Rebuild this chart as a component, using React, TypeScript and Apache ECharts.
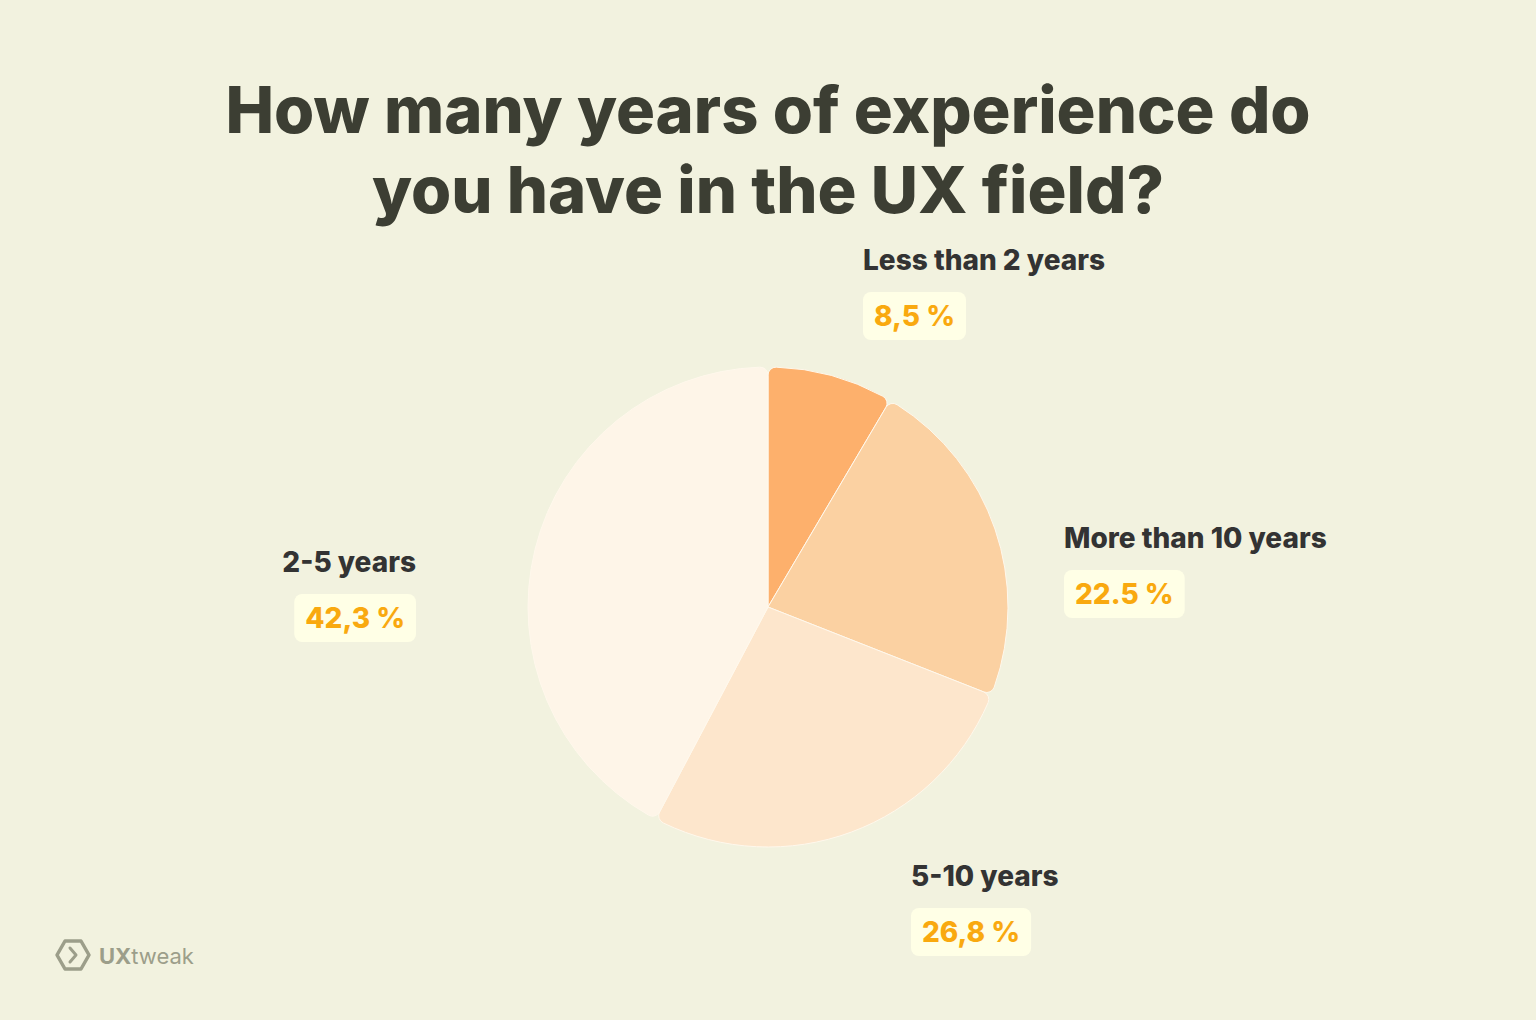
import React, { useEffect, useRef } from "react";
import * as echarts from "echarts";

const categories = ["Less than 2 years", "More than 10 years", "5-10 years", "2-5 years"];
const values = [8.5, 22.5, 26.8, 42.3];
const valueLabels = ["8,5 %", "22.5 %", "26,8 %", "42,3 %"];
const sliceColors = ["#FDB06C", "#FBD1A2", "#FDE6CC", "#FEF5E8"];

const titleText = "How many years of experience do\nyou have in the UX field?";
const FONT = "Inter, 'Open Sans', sans-serif";

// label anchors (x, top y, align) in pixels
const labelAnchors: [number, number, string][] = [
  [863, 221, "left"],
  [1064, 499, "left"],
  [911, 837, "left"],
  [416, 523, "right"],
];

export default function App() {
  const ref = useRef<HTMLDivElement>(null);
  useEffect(() => {
    document.body.style.margin = "0";
    const chart = echarts.init(ref.current!, null, { renderer: "svg" });
    chart.setOption({
      animation: false,
      backgroundColor: "#F2F2DF",
      title: {
        text: titleText,
        left: "center",
        top: 64,
        textStyle: {
          fontFamily: FONT,
          fontSize: 65,
          fontWeight: 800,
          lineHeight: 80,
          color: "#3C3E33",
        },
      },
      graphic: [
        {
          type: "polygon",
          shape: {
            points: [
              [57, 955],
              [65, 941],
              [81, 941],
              [89, 955],
              [81, 969],
              [65, 969],
            ],
          },
          style: { fill: "none", stroke: "#9C9E8A", lineWidth: 3.5, lineJoin: "round" },
        },
        {
          type: "polyline",
          shape: { points: [[70, 948], [76, 955], [70, 962]] },
          style: { fill: "none", stroke: "#9C9E8A", lineWidth: 3, lineJoin: "round", lineCap: "round" },
        },
        {
          type: "text",
          x: 99,
          y: 956,
          style: {
            text: "{a|UX}{b|tweak}",
            verticalAlign: "middle",
            rich: {
              a: { fontFamily: FONT, fontSize: 22, fontWeight: 700, fill: "#9C9E8A" },
              b: { fontFamily: FONT, fontSize: 22, fontWeight: 400, fill: "#9C9E8A" },
            },
          },
        },
      ],
      series: [
        {
          type: "pie",
          center: [768, 607],
          radius: [0, 240],
          startAngle: 90,
          clockwise: true,
          itemStyle: {
            borderRadius: [0, 8],
            borderColor: "#FFF8EC",
            borderWidth: 1,
          },
          labelLine: { show: false },
          label: {
            show: true,
            formatter: (p: any) => `{n|${p.name}}\n{v|${valueLabels[p.dataIndex]}}`,
            rich: {
              n: { fontFamily: FONT, fontSize: 28, fontWeight: 800, color: "#333333", lineHeight: 78 },
              v: {
                fontFamily: FONT,
                fontSize: 28,
                fontWeight: 800,
                color: "#F9A90F",
                backgroundColor: "#FFFFE6",
                borderRadius: 8,
                padding: [10, 11, 10, 11],
                lineHeight: 34,
              },
            },
          },
          labelLayout: (params: any) => {
            const a = labelAnchors[params.dataIndex];
            return { x: a[0], y: a[1], align: a[2], verticalAlign: "top", hideOverlap: false };
          },
          data: categories.map((c, i) => ({
            name: c,
            value: values[i],
            itemStyle: { color: sliceColors[i] },
          })),
        },
      ],
    });
    return () => chart.dispose();
  }, []);
  return <div ref={ref} style={{ width: 1536, height: 1020 }} />;
}
